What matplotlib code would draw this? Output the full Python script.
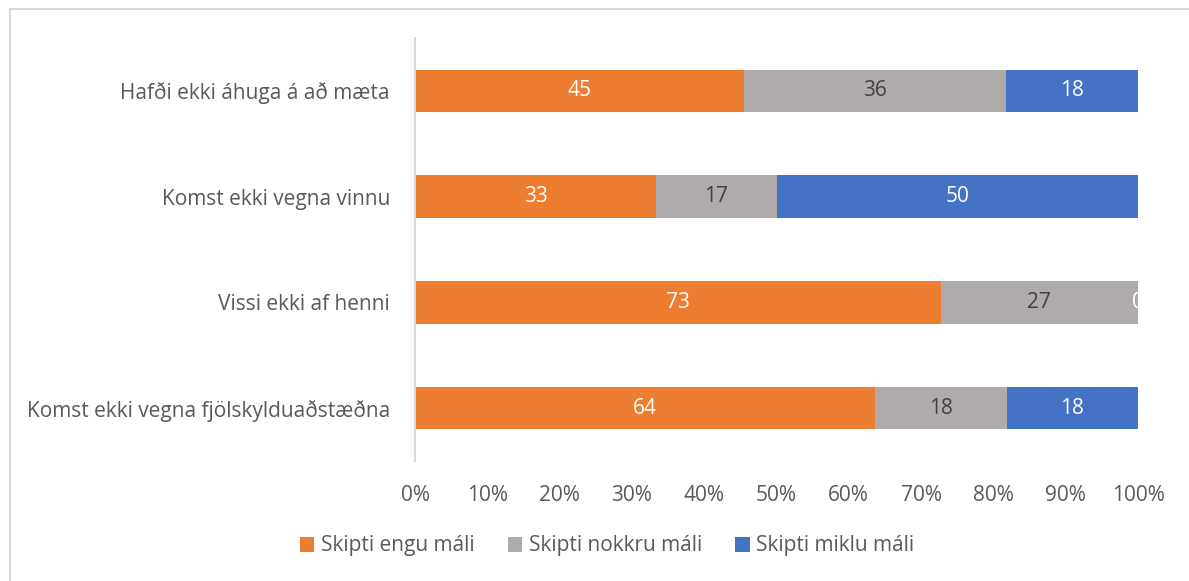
import matplotlib.pyplot as plt
from matplotlib.lines import Line2D

# Data (percent of respondents, rows listed top to bottom)
categories = [
    "Hafði ekki áhuga á að mæta",
    "Komst ekki vegna vinnu",
    "Vissi ekki af henni",
    "Komst ekki vegna fjölskylduaðstæðna",
]
engu = [45.45, 33.33, 72.73, 63.64]
nokkru = [36.36, 16.67, 27.27, 18.18]
miklu = [18.18, 50.0, 0.0, 18.18]
series_names = ["Skipti engu máli", "Skipti nokkru máli", "Skipti miklu máli"]
xticks = [0, 10, 20, 30, 40, 50, 60, 70, 80, 90, 100]

colors = ["#ED7D31", "#AFABAB", "#4472C4"]
label_colors = ["white", "#404040", "white"]

plt.rcParams["font.family"] = ["Open Sans", "DejaVu Sans"]
fs = 15

fig = plt.figure(figsize=(11.89, 5.81), dpi=100)
ax = fig.add_axes([415 / 1189, 1 - 461 / 581, 723 / 1189, 423 / 581])

# light frame around the chart area (only left and top edges are visible)
fx, fy = 9.5 / 1189, 1 - 8.5 / 581
fig.lines.append(Line2D([fx, fx, 1.0], [0.0, fy, fy], transform=fig.transFigure,
                        color="#D9D9D9", lw=1.5))

y = list(range(len(categories)))
left = [0] * len(categories)
for vals, name, col, lcol in zip([engu, nokkru, miklu], series_names,
                                 colors, label_colors):
    ax.barh(y, vals, left=left, height=0.4, color=col, label=name)
    for yi, v, l in zip(y, vals, left):
        ax.text(l + v / 2, yi, f"{v:.0f}", ha="center", va="center",
                color=lcol, fontsize=fs, clip_on=True)
    left = [a + b for a, b in zip(left, vals)]

ax.set_xlim(0, 100)
ax.set_ylim(len(categories) - 0.5, -0.5)
ax.set_yticks(y)
ax.set_yticklabels(categories)
ax.set_xticks(xticks)
ax.set_xticklabels([f"{t}%" for t in xticks])
ax.tick_params(axis="both", length=0, labelsize=fs, labelcolor="#595959")
ax.tick_params(axis="x", pad=17)
ax.tick_params(axis="y", pad=18)
for s in ["top", "right", "bottom"]:
    ax.spines[s].set_visible(False)
ax.spines["left"].set_color("#D9D9D9")
ax.spines["left"].set_linewidth(1.5)

fig.legend(loc="center", bbox_to_anchor=(607 / 1189, 1 - 546 / 581), ncol=3,
           frameon=False, fontsize=fs, handlelength=0.7, handleheight=0.7,
           handletextpad=0.3, columnspacing=1.6, labelcolor="#595959")

plt.savefig("out.png", dpi=100)
